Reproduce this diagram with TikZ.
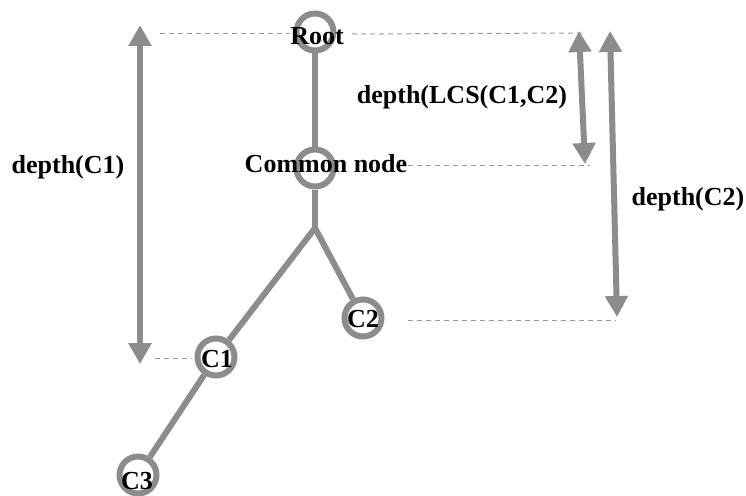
\documentclass[tikz,border=0pt]{standalone}
\usepackage{fontspec}
\setmainfont{Liberation Serif}
\usetikzlibrary{arrows.meta}
\definecolor{edgegray}{HTML}{8C8C8C}
\definecolor{dashgray}{HTML}{9A9A9A}
\tikzset{
  treenode/.style={circle, draw=edgegray, line width=6pt, fill=white, minimum size=37pt, inner sep=0pt},
  treeedge/.style={draw=edgegray, line width=6pt},
  lbl/.style={font=\fontsize{26}{30}\selectfont\bfseries, text=black, inner sep=0pt, anchor=base},
  guide/.style={draw=dashgray, line width=1pt, dash pattern=on 5pt off 4pt},
  measure/.style={draw=edgegray, line width=6pt, {Triangle[width=22pt,length=21pt]}-{Triangle[width=22pt,length=21pt]}}
}
\begin{document}
\begin{tikzpicture}[x=1pt, y=-1pt]
  \useasboundingbox (0,0) rectangle (746,495);

  % tree nodes
  \node[treenode] (root) at (315,32) {};
  \node[treenode] (common) at (315,168) {};
  \coordinate (fork) at (315,228);
  \node[treenode] (c2) at (363,318) {};
  \node[treenode] (c1) at (216,357) {};
  \node[treenode] (c3) at (138,475) {};

  % tree edges
  \draw[treeedge] (root) -- (common);
  \draw[treeedge] (common) -- (fork);
  \draw[treeedge] (fork) -- (c1);
  \draw[treeedge] (fork) -- (c2);
  \draw[treeedge] (c1) -- (c3);

  % node labels
  \node[lbl] (troot) at (317,45) {Root};
  \node[lbl] (tcommon) at (326,172) {Common node};
  \node[lbl] (tc1) at (217,367) {C1};
  \node[lbl] (tc2) at (363,327) {C2};
  \node[lbl] (tc3) at (137,489) {C3};

  % guide lines
  \coordinate (gl1) at (160,34);
  \coordinate (gl2) at (290,34);
  \coordinate (gr1) at (352,34);
  \coordinate (gr2) at (582,33);
  \coordinate (gc1) at (408,165);
  \coordinate (gc2) at (590,165);
  \coordinate (g21) at (408,320);
  \coordinate (g22) at (616,320);
  \coordinate (gk1) at (155,358);
  \coordinate (gk2) at (192,358);
  \draw[guide] (gl1) -- (gl2);
  \draw[guide] (gr1) -- (gr2);
  \draw[guide] (gc1) -- (gc2);
  \draw[guide] (g21) -- (g22);
  \draw[guide] (gk1) -- (gk2);

  % depth arrows
  \coordinate (a1t) at (140,25);
  \coordinate (a1b) at (140,364);
  \coordinate (a2t) at (579,31);
  \coordinate (a2b) at (585,164);
  \coordinate (a3t) at (610,31);
  \coordinate (a3b) at (617,317);
  \draw[measure] (a1t) -- (a1b);
  \draw[measure] (a2t) -- (a2b);
  \draw[measure] (a3t) -- (a3b);

  % depth labels
  \node[lbl] (dc1) at (68,173) {depth(C1)};
  \node[lbl] (dlcs) at (462,103) {depth(LCS(C1,C2)};
  \node[lbl] (dc2) at (688,205) {depth(C2)};
\end{tikzpicture}
\end{document}
